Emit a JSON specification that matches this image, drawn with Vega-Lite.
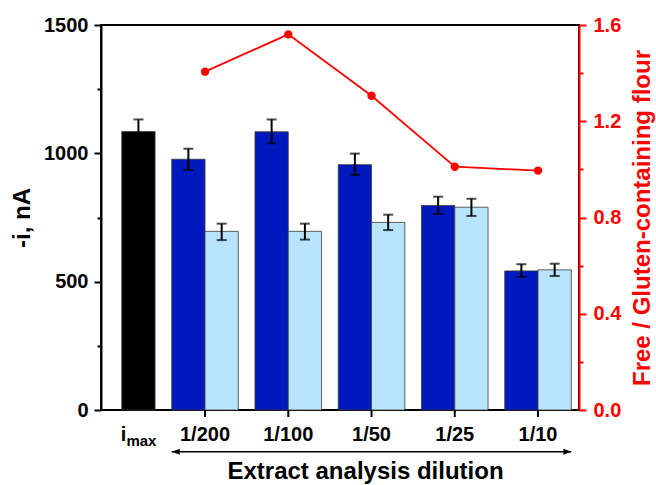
{
  "$schema": "https://vega.github.io/schema/vega-lite/v6.json",
  "width": 478,
  "height": 385,
  "autosize": {"type": "none"},
  "padding": {"left": 101, "top": 25, "right": 77, "bottom": 75},
  "config": {
    "view": {"stroke": "black", "strokeWidth": 2},
    "font": "Liberation Sans",
    "axis": {
      "labelFont": "Liberation Sans", "titleFont": "Liberation Sans",
      "labelFontWeight": "bold", "titleFontWeight": "bold",
      "labelFontSize": 20, "titleFontSize": 24, "grid": false,
      "domainWidth": 2, "tickWidth": 2, "tickSize": 7,
      "domainColor": "black", "tickColor": "black", "labelColor": "black", "titleColor": "black"
    }
  },
  "datasets": {
    "bars": [
      {"cat": "imax", "slot": "B", "kind": "imax", "v": 1085, "lo": 1040, "hi": 1132},
      {"cat": "1/200", "slot": "A", "kind": "dark", "v": 977, "lo": 935, "hi": 1018},
      {"cat": "1/200", "slot": "B", "kind": "light", "v": 696, "lo": 662, "hi": 726},
      {"cat": "1/100", "slot": "A", "kind": "dark", "v": 1084, "lo": 1039, "hi": 1132},
      {"cat": "1/100", "slot": "B", "kind": "light", "v": 696, "lo": 664, "hi": 726},
      {"cat": "1/50", "slot": "A", "kind": "dark", "v": 956, "lo": 916, "hi": 999},
      {"cat": "1/50", "slot": "B", "kind": "light", "v": 731, "lo": 701, "hi": 761},
      {"cat": "1/25", "slot": "A", "kind": "dark", "v": 797, "lo": 764, "hi": 831},
      {"cat": "1/25", "slot": "B", "kind": "light", "v": 790, "lo": 756, "hi": 823},
      {"cat": "1/10", "slot": "A", "kind": "dark", "v": 542, "lo": 519, "hi": 568},
      {"cat": "1/10", "slot": "B", "kind": "light", "v": 546, "lo": 522, "hi": 570}
    ],
    "ratio": [
      {"cat": "1/200", "r": 1.406},
      {"cat": "1/100", "r": 1.561},
      {"cat": "1/50", "r": 1.306},
      {"cat": "1/25", "r": 1.011},
      {"cat": "1/10", "r": 0.995}
    ],
    "xlabels": [
      {"cat": "1/200"}, {"cat": "1/100"}, {"cat": "1/50"}, {"cat": "1/25"}, {"cat": "1/10"}
    ],
    "xtitle": [{"cat": "1/50", "title": "Extract analysis dilution"}],
    "arrow": [{"from": "1/200", "to": "1/10"}],
    "imaxlabel": [{"cat": "imax", "slot": "B"}]
  },
  "layer": [
    {
      "data": {"name": "bars"},
      "mark": {"type": "bar", "stroke": "#3a3a3a", "strokeWidth": 0.8},
      "encoding": {
        "x": {
          "field": "cat", "type": "nominal",
          "scale": {"domain": ["imax", "1/200", "1/100", "1/50", "1/25", "1/10"], "range": [-20.85, 478.65], "paddingInner": 0.2, "paddingOuter": 0.1},
          "axis": null
        },
        "xOffset": {"field": "slot", "type": "nominal", "scale": {"domain": ["A", "B"], "paddingInner": 0, "paddingOuter": 0}},
        "y": {
          "field": "v", "type": "quantitative",
          "scale": {"domain": [0, 1500], "nice": false},
          "axis": {"title": "-i, nA", "values": [0, 250, 500, 750, 1000, 1250, 1500], "format": "d",
                   "labelExpr": "datum.value % 500 === 0 ? datum.label : ''",
                   "tickSize": {"condition": {"test": "datum.value % 500 !== 0", "value": 4}, "value": 7},
                   "labelPadding": 6, "titlePadding": 9}
        },
        "color": {"field": "kind", "type": "nominal", "scale": {"domain": ["imax", "dark", "light"], "range": ["#000000", "#0019BE", "#B8E4FD"]}, "legend": null}
      }
    },
    {
      "data": {"name": "bars"},
      "mark": {"type": "rule", "color": "black", "strokeWidth": 2},
      "encoding": {
        "x": {"field": "cat", "type": "nominal", "axis": null},
        "xOffset": {"field": "slot", "type": "nominal"},
        "y": {"field": "lo", "type": "quantitative", "scale": {"domain": [0, 1500], "nice": false}, "axis": null},
        "y2": {"field": "hi"}
      }
    },
    {
      "data": {"name": "bars"},
      "mark": {"type": "tick", "color": "black", "size": 10, "thickness": 2, "orient": "horizontal"},
      "encoding": {
        "x": {"field": "cat", "type": "nominal", "axis": null},
        "xOffset": {"field": "slot", "type": "nominal"},
        "y": {"field": "lo", "type": "quantitative", "scale": {"domain": [0, 1500], "nice": false}, "axis": null}
      }
    },
    {
      "data": {"name": "bars"},
      "mark": {"type": "tick", "color": "black", "size": 10, "thickness": 2, "orient": "horizontal"},
      "encoding": {
        "x": {"field": "cat", "type": "nominal", "axis": null},
        "xOffset": {"field": "slot", "type": "nominal"},
        "y": {"field": "hi", "type": "quantitative", "scale": {"domain": [0, 1500], "nice": false}, "axis": null}
      }
    },
    {
      "data": {"name": "xlabels"},
      "mark": {"type": "rule", "color": "black", "strokeWidth": 2},
      "encoding": {
        "x": {"field": "cat", "type": "nominal", "axis": null},
        "y": {"datum": 0, "type": "quantitative", "scale": {"domain": [0, 1500], "nice": false}, "axis": null},
        "y2": {"datum": -27.3}
      }
    },
    {
      "data": {"name": "xlabels"},
      "mark": {"type": "text", "font": "Liberation Sans", "fontWeight": "bold", "fontSize": 20, "align": "center", "baseline": "alphabetic", "color": "black"},
      "encoding": {
        "x": {"field": "cat", "type": "nominal", "axis": null},
        "y": {"datum": -122.3, "type": "quantitative", "scale": {"domain": [0, 1500], "nice": false}, "axis": null},
        "text": {"field": "cat"}
      }
    },
    {
      "data": {"name": "xtitle"},
      "mark": {"type": "text", "font": "Liberation Sans", "fontWeight": "bold", "fontSize": 24, "align": "center", "baseline": "alphabetic", "dx": -6, "color": "black"},
      "encoding": {
        "x": {"field": "cat", "type": "nominal", "axis": null},
        "y": {"datum": -269, "type": "quantitative", "scale": {"domain": [0, 1500], "nice": false}, "axis": null},
        "text": {"field": "title"}
      }
    },
    {
      "data": {"name": "imaxlabel"},
      "mark": {"type": "text", "text": "i", "font": "Liberation Sans", "fontWeight": "bold", "fontSize": 20, "align": "right", "baseline": "alphabetic", "dx": -12, "color": "black"},
      "encoding": {
        "x": {"field": "cat", "type": "nominal", "axis": null},
        "xOffset": {"field": "slot", "type": "nominal"},
        "y": {"datum": -122.7, "type": "quantitative", "scale": {"domain": [0, 1500], "nice": false}, "axis": null}
      }
    },
    {
      "data": {"name": "imaxlabel"},
      "mark": {"type": "text", "text": "max", "font": "Liberation Sans", "fontWeight": "bold", "fontSize": 15, "align": "left", "baseline": "alphabetic", "dx": -12, "color": "black"},
      "encoding": {
        "x": {"field": "cat", "type": "nominal", "axis": null},
        "xOffset": {"field": "slot", "type": "nominal"},
        "y": {"datum": -142.2, "type": "quantitative", "scale": {"domain": [0, 1500], "nice": false}, "axis": null}
      }
    },
    {
      "data": {"name": "arrow"},
      "mark": {"type": "rule", "color": "black", "strokeWidth": 1.5},
      "encoding": {
        "x": {"field": "from", "type": "nominal", "bandPosition": 0, "axis": null},
        "x2": {"field": "to", "bandPosition": 1},
        "y": {"datum": -162.5, "type": "quantitative", "scale": {"domain": [0, 1500], "nice": false}, "axis": null}
      }
    },
    {
      "data": {"name": "arrow"},
      "mark": {"type": "point", "filled": true, "color": "black", "opacity": 1, "size": 64, "shape": "M0,0L2,-0.75L2,0.75Z"},
      "encoding": {
        "x": {"field": "from", "type": "nominal", "bandPosition": 0, "axis": null},
        "y": {"datum": -162.5, "type": "quantitative", "scale": {"domain": [0, 1500], "nice": false}, "axis": null}
      }
    },
    {
      "data": {"name": "arrow"},
      "mark": {"type": "point", "filled": true, "color": "black", "opacity": 1, "size": 64, "shape": "M0,0L-2,-0.75L-2,0.75Z"},
      "encoding": {
        "x": {"field": "to", "type": "nominal", "bandPosition": 1, "axis": null},
        "y": {"datum": -162.5, "type": "quantitative", "scale": {"domain": [0, 1500], "nice": false}, "axis": null}
      }
    },
    {
      "data": {"name": "ratio"},
      "mark": {"type": "line", "color": "#FF0000", "strokeWidth": 1.8},
      "encoding": {
        "x": {"field": "cat", "type": "nominal", "axis": null},
        "y": {
          "field": "r", "type": "quantitative",
          "scale": {"domain": [0, 1.6], "nice": false},
          "axis": {"orient": "right", "title": "Free / Gluten-containing flour",
                   "values": [0, 0.2, 0.4, 0.6, 0.8, 1.0, 1.2, 1.4, 1.6], "format": ".1f",
                   "labelExpr": "round(datum.value * 10) % 4 === 0 ? datum.label : ''",
                   "tickSize": {"condition": {"test": "round(datum.value * 10) % 4 !== 0", "value": 4}, "value": 7},
                   "domainColor": "#FF0000", "tickColor": "#FF0000", "labelColor": "#FF0000", "titleColor": "#FF0000",
                   "labelPadding": 7, "titlePadding": 10, "titleAngle": 270, "titleBaseline": "top"}
        },
        "order": {"value": null}
      }
    },
    {
      "data": {"name": "ratio"},
      "mark": {"type": "point", "filled": true, "color": "#FF0000", "opacity": 1, "size": 70},
      "encoding": {
        "x": {"field": "cat", "type": "nominal", "axis": null},
        "y": {"field": "r", "type": "quantitative", "scale": {"domain": [0, 1.6], "nice": false}, "axis": null}
      }
    }
  ],
  "resolve": {"scale": {"y": "independent"}}
}
